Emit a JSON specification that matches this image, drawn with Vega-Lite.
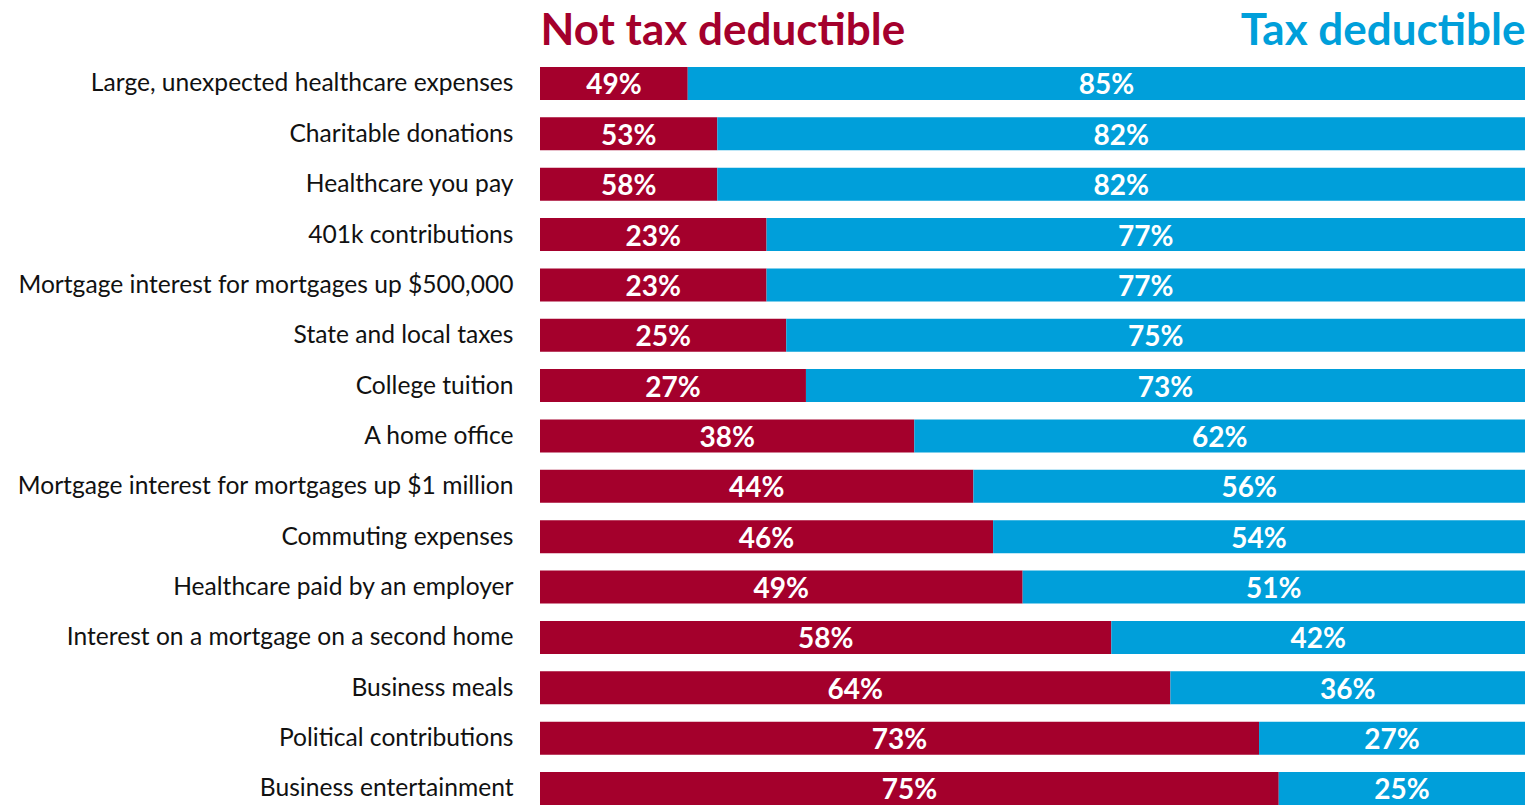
{
  "$schema": "https://vega.github.io/schema/vega-lite/v6.json",
  "width": 985,
  "height": 747,
  "autosize": {"type": "none"},
  "padding": {"left": 540, "top": 58, "right": 9, "bottom": 0},
  "background": "white",
  "config": {"view": {"stroke": null}, "font": "Lato"},
  "data": {
    "values": [
      {"item": "Large, unexpected healthcare expenses", "segment": "Not tax deductible", "value": 15, "label": "49%"},
      {"item": "Large, unexpected healthcare expenses", "segment": "Tax deductible", "value": 85, "label": "85%"},
      {"item": "Charitable donations", "segment": "Not tax deductible", "value": 18, "label": "53%"},
      {"item": "Charitable donations", "segment": "Tax deductible", "value": 82, "label": "82%"},
      {"item": "Healthcare you pay", "segment": "Not tax deductible", "value": 18, "label": "58%"},
      {"item": "Healthcare you pay", "segment": "Tax deductible", "value": 82, "label": "82%"},
      {"item": "401k contributions", "segment": "Not tax deductible", "value": 23, "label": "23%"},
      {"item": "401k contributions", "segment": "Tax deductible", "value": 77, "label": "77%"},
      {"item": "Mortgage interest for mortgages up $500,000", "segment": "Not tax deductible", "value": 23, "label": "23%"},
      {"item": "Mortgage interest for mortgages up $500,000", "segment": "Tax deductible", "value": 77, "label": "77%"},
      {"item": "State and local taxes", "segment": "Not tax deductible", "value": 25, "label": "25%"},
      {"item": "State and local taxes", "segment": "Tax deductible", "value": 75, "label": "75%"},
      {"item": "College tuition", "segment": "Not tax deductible", "value": 27, "label": "27%"},
      {"item": "College tuition", "segment": "Tax deductible", "value": 73, "label": "73%"},
      {"item": "A home office", "segment": "Not tax deductible", "value": 38, "label": "38%"},
      {"item": "A home office", "segment": "Tax deductible", "value": 62, "label": "62%"},
      {"item": "Mortgage interest for mortgages up $1 million", "segment": "Not tax deductible", "value": 44, "label": "44%"},
      {"item": "Mortgage interest for mortgages up $1 million", "segment": "Tax deductible", "value": 56, "label": "56%"},
      {"item": "Commuting expenses", "segment": "Not tax deductible", "value": 46, "label": "46%"},
      {"item": "Commuting expenses", "segment": "Tax deductible", "value": 54, "label": "54%"},
      {"item": "Healthcare paid by an employer", "segment": "Not tax deductible", "value": 49, "label": "49%"},
      {"item": "Healthcare paid by an employer", "segment": "Tax deductible", "value": 51, "label": "51%"},
      {"item": "Interest on a mortgage on a second home", "segment": "Not tax deductible", "value": 58, "label": "58%"},
      {"item": "Interest on a mortgage on a second home", "segment": "Tax deductible", "value": 42, "label": "42%"},
      {"item": "Business meals", "segment": "Not tax deductible", "value": 64, "label": "64%"},
      {"item": "Business meals", "segment": "Tax deductible", "value": 36, "label": "36%"},
      {"item": "Political contributions", "segment": "Not tax deductible", "value": 73, "label": "73%"},
      {"item": "Political contributions", "segment": "Tax deductible", "value": 27, "label": "27%"},
      {"item": "Business entertainment", "segment": "Not tax deductible", "value": 75, "label": "75%"},
      {"item": "Business entertainment", "segment": "Tax deductible", "value": 25, "label": "25%"}
    ]
  },
  "encoding": {
    "y": {
      "field": "item",
      "type": "nominal",
      "sort": null,
      "title": null,
      "scale": {"paddingInner": 0.3447, "paddingOuter": 0.089, "align": 1, "round": false},
      "axis": {
        "domain": false,
        "ticks": false,
        "labelPadding": 27,
        "labelFontSize": 24.6,
        "labelColor": "#111111",
        "labelFont": "Lato",
        "labelLimit": 600,
        "labelOffset": 1
      }
    },
    "order": {"field": "segment", "type": "ordinal", "sort": "ascending"}
  },
  "layer": [
    {
      "mark": {"type": "bar"},
      "encoding": {
        "x": {
          "field": "value",
          "type": "quantitative",
          "stack": "zero",
          "scale": {"domain": [0, 100], "nice": false},
          "axis": {
            "orient": "top",
            "values": [0, 100],
            "labelExpr": "datum.value == 0 ? 'Not tax deductible' : 'Tax deductible'",
            "labelFlush": true,
            "labelOverlap": false,
            "labelBound": false,
            "labelLimit": 700,
            "domain": false,
            "ticks": false,
            "tickSize": 0,
            "grid": false,
            "labelPadding": 14,
            "labelBaseline": "alphabetic",
            "labelFont": "Lato",
            "labelFontSize": 44,
            "labelFontWeight": "bold",
            "labelColor": {"condition": {"test": "datum.value == 0", "value": "#A4002C"}, "value": "#009FDA"},
            "title": null
          }
        },
        "color": {
          "field": "segment",
          "type": "nominal",
          "scale": {"domain": ["Not tax deductible", "Tax deductible"], "range": ["#A4002C", "#009FDA"]},
          "legend": null
        }
      }
    },
    {
      "mark": {"type": "text", "color": "white", "font": "Lato", "fontSize": 28, "fontWeight": "bold", "baseline": "middle", "align": "center", "dy": 3},
      "encoding": {
        "x": {
          "field": "value",
          "type": "quantitative",
          "stack": "zero",
          "bandPosition": 0.5,
          "scale": {"domain": [0, 100], "nice": false},
          "axis": {
            "orient": "top",
            "values": [0, 100],
            "labelExpr": "datum.value == 0 ? 'Not tax deductible' : 'Tax deductible'",
            "labelFlush": true,
            "labelOverlap": false,
            "labelBound": false,
            "labelLimit": 700,
            "domain": false,
            "ticks": false,
            "tickSize": 0,
            "grid": false,
            "labelPadding": 14,
            "labelBaseline": "alphabetic",
            "labelFont": "Lato",
            "labelFontSize": 44,
            "labelFontWeight": "bold",
            "labelColor": {"condition": {"test": "datum.value == 0", "value": "#A4002C"}, "value": "#009FDA"},
            "title": null
          }
        },
        "detail": {"field": "segment", "type": "nominal"},
        "text": {"field": "label", "type": "nominal"}
      }
    }
  ]
}
